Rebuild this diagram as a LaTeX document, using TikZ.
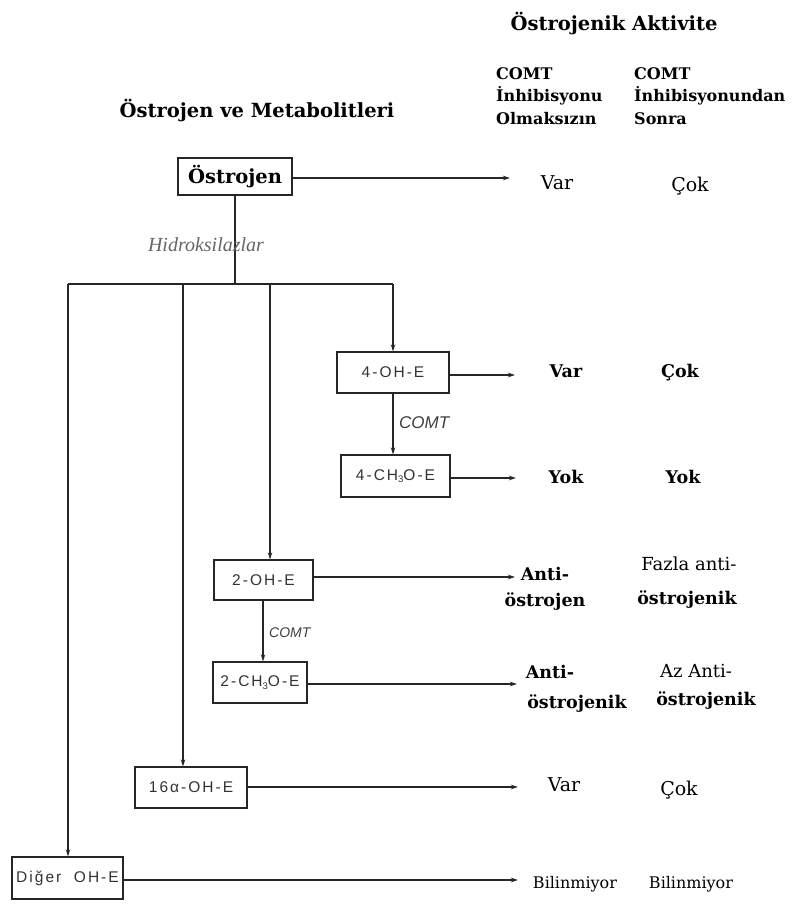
\documentclass[tikz,border=0pt]{standalone}
\usepackage{fontspec}
\setmainfont{DejaVu Serif}
\newfontfamily\boxfont{Liberation Sans}[LetterSpace=13]
\newfontfamily\lsans{Liberation Sans}
\newfontfamily\itser{Liberation Serif}
\usetikzlibrary{arrows.meta}
\begin{document}
\begin{tikzpicture}[x=1pt,y=-1pt,
  ln/.style={draw=black!85,line width=1.3pt},
  arr/.style={ln,-{Stealth[length=7pt,width=4.5pt]}},
  mbox/.style={draw=black!85,line width=1.3pt,inner sep=0pt,text=black!80,
    font=\boxfont\fontsize{15.5}{15.5}\selectfont},
  hd/.style={font=\bfseries\fontsize{16}{16}\selectfont,anchor=base west,inner sep=0pt},
  ttl/.style={font=\bfseries\fontsize{19.5}{19.5}\selectfont,anchor=base,inner sep=0pt},
  resb/.style={font=\bfseries\fontsize{17.5}{17.5}\selectfont,anchor=base,inner sep=0pt},
  resr/.style={font=\fontsize{18}{18}\selectfont,anchor=base,inner sep=0pt},
  comt/.style={font=\lsans\itshape\fontsize{#1}{#1}\selectfont,text=black!75,inner sep=0pt,anchor=base west},
]
\path[use as bounding box,fill=white] (0,0) rectangle (797,905);

% titles
\node[ttl] (t1) at (614,30) {Östrojenik Aktivite};
\node[ttl] (t2) at (257,117) {Östrojen ve Metabolitleri};
\node[hd] (h1a) at (496,79) {COMT};
\node[hd] (h1b) at (496,101) {İnhibisyonu};
\node[hd] (h1c) at (496,124) {Olmaksızın};
\node[hd] (h2a) at (634,79) {COMT};
\node[hd] (h2b) at (634,101) {İnhibisyonundan};
\node[hd] (h2c) at (634,124) {Sonra};

% boxes
\node[mbox,minimum width=114pt,minimum height=37pt,text=black,
  font=\bfseries\fontsize{19.5}{19.5}\selectfont] (ostr) at (235,176.5) {Östrojen};
\node[mbox,minimum width=112pt,minimum height=41pt] (b4oh) at (393,372.5) {4-OH-E};
\node[mbox,minimum width=109pt,minimum height=42pt] (b4ch) at (395.5,476) {4-CH\raisebox{-2.5pt}{\fontsize{9.5}{9.5}\selectfont 3}O-E};
\node[mbox,minimum width=99pt,minimum height=40pt] (b2oh) at (263.5,580) {2-OH-E};
\node[mbox,minimum width=94pt,minimum height=41pt] (b2ch) at (260,682.5) {2-CH\raisebox{-2.5pt}{\fontsize{9.5}{9.5}\selectfont 3}O-E};
\node[mbox,minimum width=112pt,minimum height=41pt] (b16) at (191,787.5) {16α-OH-E};
\node[mbox,minimum width=111pt,minimum height=42pt] (bdig) at (67.5,878) {Diğer\ \ OH-E};

% bus
\coordinate (bus0) at (235,284);
\coordinate (j1) at (68,284);
\coordinate (j2) at (183,284);
\coordinate (j3) at (270,284);
\coordinate (j4) at (393,284);
\draw[ln] (ostr.south) -- (bus0);
\draw[ln] (j1) -- (j4);
\node[font=\itser\itshape\fontsize{20}{20}\selectfont,text=black!60,anchor=base,inner sep=0pt] (hyd) at (206,251) {Hidroksilazlar};
\draw[arr] (j1) -- (j1 |- bdig.north);
\draw[arr] (j2) -- (j2 |- b16.north);
\draw[arr] (j3) -- (j3 |- b2oh.north);
\draw[arr] (j4) -- (j4 |- b4oh.north);

% COMT connectors
\coordinate (c4) at (393,0);
\coordinate (c2) at (263,0);
\draw[arr] (c4 |- b4oh.south) -- (c4 |- b4ch.north);
\node[comt=17] (comt1) at (399,428) {COMT};
\draw[arr] (c2 |- b2oh.south) -- (c2 |- b2ch.north);
\node[comt=14] (comt2) at (269,637) {COMT};

% horizontal arrows
\coordinate (e0) at (510,178);
\coordinate (e1) at (515,375);
\coordinate (e2) at (516,478);
\coordinate (e3) at (515,577);
\coordinate (e4) at (517,684);
\coordinate (e5) at (518,787);
\coordinate (e6) at (518,880);
\draw[arr] (ostr.east |- e0) -- (e0);
\draw[arr] (b4oh.east |- e1) -- (e1);
\draw[arr] (b4ch.east |- e2) -- (e2);
\draw[arr] (b2oh.east |- e3) -- (e3);
\draw[arr] (b2ch.east |- e4) -- (e4);
\draw[arr] (b16.east |- e5) -- (e5);
\draw[arr] (bdig.east |- e6) -- (e6);

% results
\node[resr,font=\fontsize{19}{19}\selectfont] (r0a) at (557,189) {Var};
\node[resr,font=\fontsize{19}{19}\selectfont] (r0b) at (690,191) {Çok};
\node[resb] (r1a) at (566,377) {Var};
\node[resb] (r1b) at (680,377) {Çok};
\node[resb] (r2a) at (566,483) {Yok};
\node[resb] (r2b) at (683,483) {Yok};
\node[resb] (r3a) at (545,580) {Anti-};
\node[resb] (r3b) at (545,606) {östrojen};
\node[resr] (r3c) at (689,570) {Fazla anti-};
\node[resb] (r3d) at (687,604) {östrojenik};
\node[resb] (r4a) at (550,678) {Anti-};
\node[resb] (r4b) at (577,708) {östrojenik};
\node[resr] (r4c) at (696,677) {Az Anti-};
\node[resb] (r4d) at (706,705) {östrojenik};
\node[resr,font=\fontsize{19}{19}\selectfont] (r5a) at (564,791) {Var};
\node[resr,font=\fontsize{19}{19}\selectfont] (r5b) at (679,795) {Çok};
\node[resr,font=\fontsize{16}{16}\selectfont] (r6a) at (575,888) {Bilinmiyor};
\node[resr,font=\fontsize{16}{16}\selectfont] (r6b) at (691,888) {Bilinmiyor};
\end{tikzpicture}
\end{document}
